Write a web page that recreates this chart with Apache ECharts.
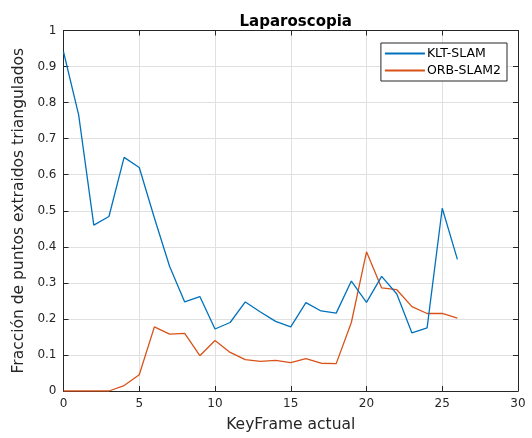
<!DOCTYPE html>
<html>
<head>
<meta charset="utf-8">
<script src="https://cdn.jsdelivr.net/npm/echarts@6/dist/echarts.min.js"></script>
<style>
html,body{margin:0;padding:0;background:#fff;}
#c{width:532px;height:438px;}
</style>
</head>
<body>
<div id="c"></div>
<script>
const keyframes = [0,1,2,3,4,5,6,7,8,9,10,11,12,13,14,15,16,17,18,19,20,21,22,23,24,25,26];
const kltSlam = [0.941,0.766,0.46,0.484,0.648,0.62,0.48,0.346,0.247,0.262,0.172,0.19,0.247,0.219,0.193,0.178,0.245,0.222,0.216,0.305,0.246,0.318,0.269,0.161,0.175,0.507,0.365];
const orbSlam2 = [0,0,0,0,0.015,0.045,0.178,0.158,0.16,0.098,0.14,0.107,0.087,0.082,0.085,0.079,0.09,0.077,0.076,0.19,0.386,0.286,0.281,0.234,0.215,0.215,0.202];
const seriesNames = ['KLT-SLAM','ORB-SLAM2'];
const xTicks = [0,5,10,15,20,25,30];
const yTicks = [0,0.1,0.2,0.3,0.4,0.5,0.6,0.7,0.8,0.9,1];

const FONT = 'DejaVu Sans';
const AX = '#262626';
const chart = echarts.init(document.getElementById('c'));
const pairs = arr => keyframes.map((k,i)=>[k,arr[i]]);
const common = () => ({
  axisLine:{show:true,onZero:false,lineStyle:{color:AX,width:1}},
  axisTick:{show:true,inside:true,length:5,lineStyle:{color:AX}},
});
chart.setOption({
  animation:false,
  backgroundColor:'#fff',
  title:{text:'Laparoscopia',left:290.75,textAlign:'center',top:10,
    textStyle:{fontFamily:FONT,fontSize:15,fontWeight:'bold',color:'#000'}},
  grid:{left:63.5,right:14,top:30.5,bottom:45.5,show:false},
  legend:{
    data:seriesNames, orient:'vertical', right:25, top:43,
    backgroundColor:'#fff', borderColor:AX, borderWidth:1,
    padding:[4,6,4,4], itemGap:4, itemWidth:40, itemHeight:2,
    icon:'rect',
    textStyle:{fontFamily:FONT,fontSize:12.5,color:'#000',padding:[0,0,0,-3]}
  },
  xAxis:[
    Object.assign({type:'value',min:0,max:30,interval:5,position:'bottom',
      name:'KeyFrame actual',nameLocation:'middle',nameGap:26,
      nameTextStyle:{fontFamily:FONT,fontSize:15.5,color:AX},
      axisLabel:{fontFamily:FONT,fontSize:12,color:AX,margin:7,
        formatter:v=>xTicks.includes(v)?String(v):''},
      splitLine:{show:true,lineStyle:{color:'#e0e0e0',width:1}}},common()),
    Object.assign({type:'value',min:0,max:30,interval:5,position:'top',
      axisLabel:{show:false},splitLine:{show:false}},common())
  ],
  yAxis:[
    Object.assign({type:'value',min:0,max:1,interval:0.1,position:'left',
      name:'Fracción de puntos extraidos triangulados',nameLocation:'middle',nameGap:34,
      nameTextStyle:{fontFamily:FONT,fontSize:15.5,color:AX},
      axisLabel:{fontFamily:FONT,fontSize:12,color:AX,margin:7,
        formatter:v=>{const t=yTicks.find(y=>Math.abs(y-v)<1e-9);return t===undefined?'':String(t);}},
      splitLine:{show:true,lineStyle:{color:'#e0e0e0',width:1}}},common()),
    Object.assign({type:'value',min:0,max:1,interval:0.1,position:'right',
      axisLabel:{show:false},splitLine:{show:false}},common())
  ],
  series:[
    {name:seriesNames[0],type:'line',data:pairs(kltSlam),showSymbol:false,symbol:'none',
      lineStyle:{color:'#0072BD',width:1.3},itemStyle:{color:'#0072BD'},z:3},
    {name:seriesNames[1],type:'line',data:pairs(orbSlam2),showSymbol:false,symbol:'none',
      lineStyle:{color:'#D95319',width:1.3},itemStyle:{color:'#D95319'},z:2}
  ]
});
</script>
</body>
</html>
